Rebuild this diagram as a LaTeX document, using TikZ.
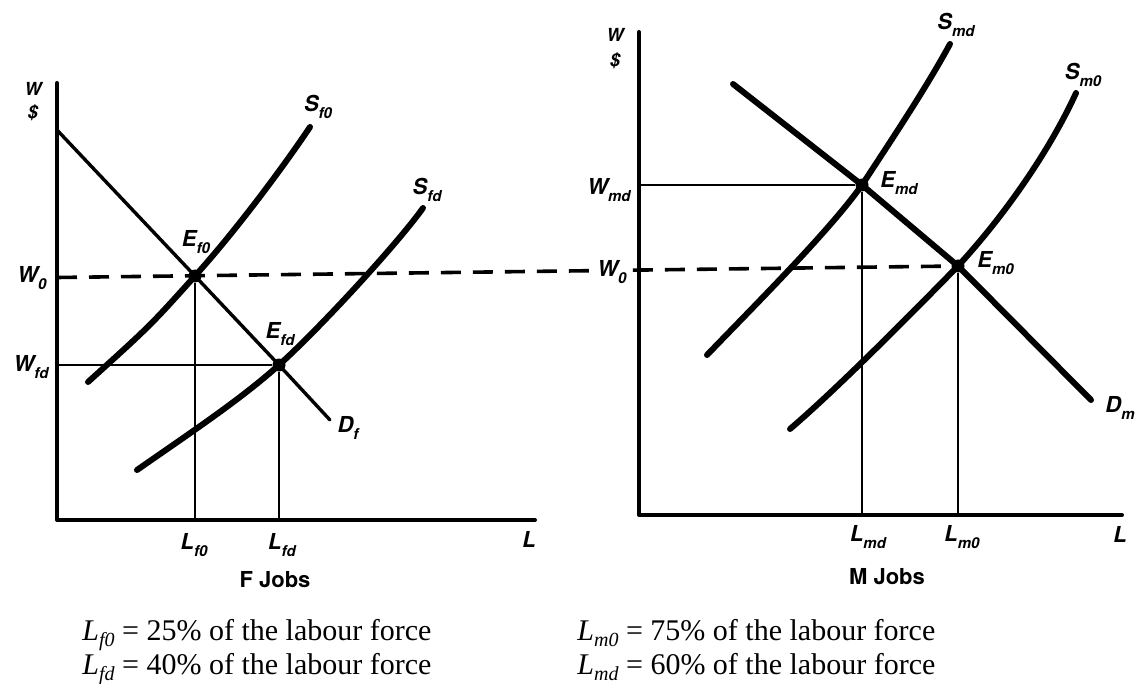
\documentclass[tikz,border=0pt]{standalone}
\usepackage{fontspec}
\setmainfont{Liberation Serif}
\setsansfont{TeX Gyre Heros}
\usetikzlibrary{positioning}

\newcommand{\gsub}[1]{\raisebox{-0.55ex}{\fontsize{7.5}{8}\selectfont #1}}
\newcommand{\csub}[1]{\raisebox{-0.45ex}{\fontsize{10}{11}\selectfont #1}}

\tikzset{
  axis/.style={line width=2pt, line cap=round, line join=round},
  supply/.style={line width=3pt, line cap=round},
  demand/.style={line width=1.7pt, line cap=round, line join=round},
  guide/.style={line width=1.3pt},
  wage/.style={line width=1.8pt, dash pattern=on 10pt off 6pt},
  eqpt/.style={circle, fill, inner sep=0pt, minimum size=6.5pt},
  lbl/.style={font=\sffamily\bfseries\itshape\fontsize{11}{13}\selectfont, inner sep=1pt},
  toplbl/.style={font=\sffamily\bfseries\itshape\fontsize{9}{10}\selectfont, inner sep=0pt},
  jobs/.style={font=\sffamily\bfseries\fontsize{11}{13}\selectfont, inner sep=1pt},
  note/.style={font=\fontsize{15}{17}\selectfont, anchor=base west, inner sep=0pt}
}

\begin{document}
\begin{tikzpicture}[x=0.5pt, y=-0.5pt]
\useasboundingbox (0,0) rectangle (1145,684);

% F jobs
\coordinate (fy) at (57,83);
\coordinate (fo) at (57,520);
\coordinate (fx) at (535,520);
\node[eqpt] (ef0) at (195,276) {};
\node[eqpt] (efd) at (279,365) {};

\draw[guide] (ef0) -- (ef0 |- fo);
\draw[guide] (efd) -- (efd |- fo);
\draw[guide] (efd) -- (efd -| fo);
\draw[demand] (57,130) -- (ef0.center) -- (efd.center) -- (330,420);
\draw[supply] (88,382) .. controls (150,326) .. (ef0.center)
  .. controls (240,226) and (288,160) .. (310,127);
\draw[supply] (137,470) .. controls (190,433) and (240,400) .. (efd.center)
  .. controls (322,326) and (398,243) .. (423,208);
\draw[axis] (fy) -- (fo) -- (fx);

\node[toplbl] (wf) at (33,89) {W};
\node[toplbl, below=4pt of wf] (df) {\$};
\node[lbl] (w0f) at (32,278) {W\gsub{0}};
\node[lbl] (wfd) at (31,367) {W\gsub{fd}};
\node[lbl] (ef0l) at (196,242) {E\gsub{f0}};
\node[lbl] (efdl) at (280,334) {E\gsub{fd}};
\node[lbl] (sf0) at (318,107) {S\gsub{f0}};
\node[lbl] (sfd) at (427,190) {S\gsub{fd}};
\node[lbl] (dfl) at (348,428) {D\gsub{f}};
\node[lbl] (lf0) at (194,545) {L\gsub{f0}};
\node[lbl] (lfd) at (282,545) {L\gsub{fd}};
\node[lbl] (lf) at (529,539) {L};
\node[jobs] (fjobs) at (275,580) {F Jobs};

% M jobs
\coordinate (my) at (639,32);
\coordinate (mo) at (639,515);
\coordinate (mx) at (1122,515);
\node[eqpt] (emd) at (862,185) {};
\node[eqpt] (em0) at (958,266) {};

\draw[wage] (57,277.5) -- (em0);
\draw[guide] (emd) -- (emd |- mo);
\draw[guide] (em0) -- (em0 |- mo);
\draw[guide] (emd) -- (emd -| mo);
\draw[supply, line join=round] (733,84) -- (emd.center) -- (em0.center) -- (1091,400);
\draw[supply] (707,355) .. controls (760,300) and (830,230) .. (emd.center)
  .. controls (890,142) and (925,90) .. (950,44);
\draw[supply] (790,429) .. controls (838,388) and (915,310) .. (em0.center)
  .. controls (1005,215) and (1050,150) .. (1076,93);
\draw[axis] (my) -- (mo) -- (mx);

\node[toplbl] (wm) at (615,35) {W};
\node[toplbl, below=5pt of wm] (dm) {\$};
\node[lbl] (wmd) at (609,190) {W\gsub{md}};
\node[lbl, fill=white] (w0m) at (612,272) {W\gsub{0}};
\node[lbl, anchor=west] (emdl) at (878,183) {E\gsub{md}};
\node[lbl, anchor=west] (em0l) at (975,263) {E\gsub{m0}};
\node[lbl] (smd) at (956,25) {S\gsub{md}};
\node[lbl] (sm0) at (1083,75) {S\gsub{m0}};
\node[lbl] (dml) at (1120,408) {D\gsub{m}};
\node[lbl] (lmd) at (868,537) {L\gsub{md}};
\node[lbl] (lm0) at (962,537) {L\gsub{m0}};
\node[lbl] (lm) at (1120,534) {L};
\node[jobs] (mjobs) at (887,577) {M Jobs};

% shares of the labour force
\node[note] (nf0) at (82,640) {\textit{L}\csub{\textit{f0}} = 25\% of the labour force};
\node[note] (nfd) at (82,674) {\textit{L}\csub{\textit{fd}} = 40\% of the labour force};
\node[note] (nm0) at (577,640) {\textit{L}\csub{\textit{m0}} = 75\% of the labour force};
\node[note] (nmd) at (577,674) {\textit{L}\csub{\textit{md}} = 60\% of the labour force};

\end{tikzpicture}
\end{document}
